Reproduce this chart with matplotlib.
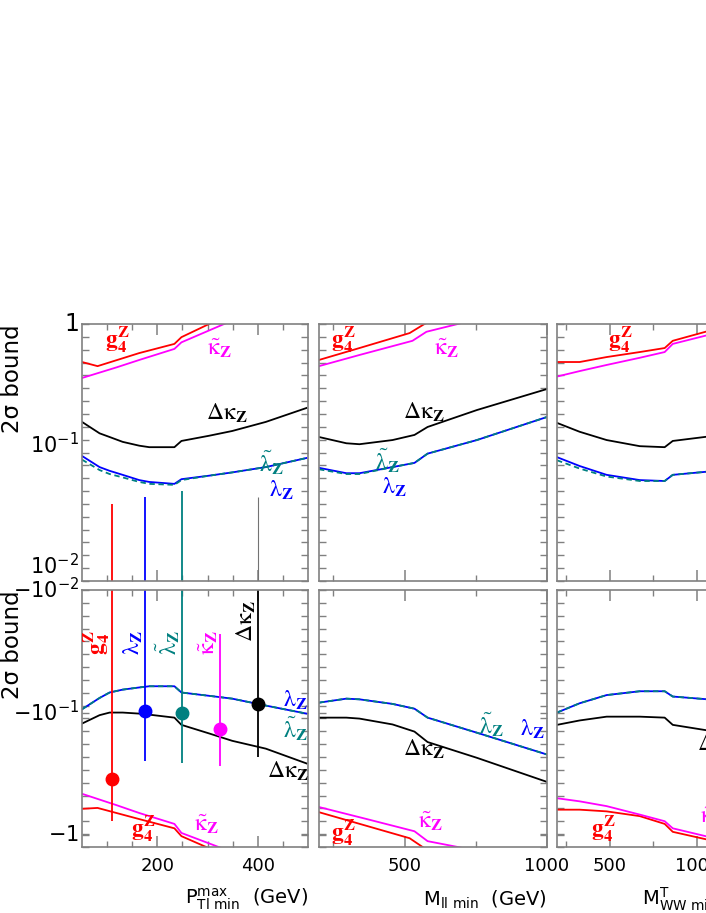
import numpy as np
import matplotlib
matplotlib.use('Agg')
import matplotlib.pyplot as plt
from matplotlib.ticker import FixedLocator, NullFormatter

plt.rcParams['font.family'] = 'DejaVu Sans'

# ---------------- data (2 sigma bounds) ----------------
# left column : P_Tl min^max (GeV)
pt_x = [50, 85, 105, 131, 164, 184, 234, 248, 303, 349, 416, 497]
pt_dk_up = [0.173, 0.141, 0.132, 0.121, 0.113, 0.110, 0.110, 0.123, 0.135, 0.147, 0.173, 0.222]
pt_lam_up = [0.094, 0.077, 0.072, 0.067, 0.061, 0.059, 0.057, 0.062, 0.066, 0.070, 0.077, 0.0906]
pt_lamt_up = [0.088, 0.073, 0.068, 0.064, 0.059, 0.057, 0.056, 0.061, 0.066, 0.070, 0.077, 0.0906]
pt_dk_dn = [-0.123, -0.105, -0.100, -0.100, -0.102, -0.104, -0.110, -0.126, -0.148, -0.170, -0.197, -0.260]
pt_lam_dn = [-0.094, -0.076, -0.0686, -0.065, -0.0624, -0.061, -0.061, -0.0686, -0.073, -0.077, -0.0877, -0.102]
pt_lamt_dn = [-0.094, -0.076, -0.0686, -0.065, -0.0624, -0.061, -0.061, -0.0686, -0.073, -0.077, -0.0877, -0.102]
pt_g4_x = [50, 81, 164, 234, 248, 303, 320]
pt_g4_up = [0.506, 0.47, 0.594, 0.70, 0.79, 1.0, 1.08]
pt_g4_dn = [-0.61, -0.60, -0.74, -0.88, -1.02, -1.28, -1.36]
pt_kt_x = [50, 119, 164, 234, 248, 333, 350]
pt_kt_up = [0.38, 0.46, 0.525, 0.64, 0.72, 1.0, 1.07]
pt_kt_dn = [-0.46, -0.57, -0.66, -0.81, -0.96, -1.30, -1.38]

# single-point bounds shown as error bars in the left column
bar_x = [110, 175, 250, 325, 400]
bar_mid = [-0.35, -0.098, -0.10, -0.135, -0.0845]
bar_lo = [-0.77, -0.25, -0.26, -0.275, -0.23]
bar_hi = [0.040, 0.045, 0.050, -0.023, 0.045]

# middle column : M_ll min (GeV)
ml_x = [200, 296, 342, 458, 535, 581, 754, 1000]
ml_dk_up = [0.132, 0.118, 0.116, 0.125, 0.137, 0.158, 0.214, 0.312]
ml_lam_up = [0.076, 0.069, 0.069, 0.077, 0.083, 0.098, 0.125, 0.189]
ml_lamt_up = [0.074, 0.068, 0.068, 0.077, 0.083, 0.098, 0.125, 0.189]
ml_dk_dn = [-0.11, -0.11, -0.112, -0.125, -0.143, -0.174, -0.234, -0.368]
ml_lam_dn = [-0.083, -0.077, -0.078, -0.085, -0.093, -0.11, -0.146, -0.22]
ml_lamt_dn = [-0.083, -0.077, -0.078, -0.085, -0.093, -0.11, -0.146, -0.22]
ml_g4_x = [200, 342, 518, 570, 600]
ml_g4_up = [0.525, 0.65, 0.85, 1.0, 1.08]
ml_g4_x2 = [200, 518, 570, 600]
ml_g4_dn = [-0.65, -1.06, -1.28, -1.40]
ml_kt_x = [200, 342, 528, 577, 687, 720]
ml_kt_up = [0.47, 0.574, 0.74, 0.87, 1.0, 1.05]
ml_kt_x2 = [200, 368, 535, 581, 687, 720]
ml_kt_dn = [-0.59, -0.74, -0.93, -1.12, -1.25, -1.30]

# right column : M^T_WW min (GeV)
rt_x = [200, 329, 483, 672, 814, 860, 1060]
rt_dk_up = [0.17, 0.145, 0.125, 0.112, 0.110, 0.123, 0.133]
rt_lam_up = [0.092, 0.0785, 0.067, 0.061, 0.060, 0.067, 0.071]
rt_lamt_up = [0.087, 0.075, 0.065, 0.060, 0.060, 0.067, 0.071]
rt_g4_up = [0.506, 0.506, 0.553, 0.605, 0.65, 0.74, 0.88]
rt_kt_up = [0.39, 0.43, 0.48, 0.546, 0.605, 0.70, 0.82]
rt_dk_dn = [-0.126, -0.116, -0.108, -0.108, -0.11, -0.126, -0.14]
rt_lam_dn = [-0.10, -0.084, -0.072, -0.067, -0.067, -0.074, -0.078]
rt_lamt_dn = [-0.10, -0.084, -0.072, -0.067, -0.067, -0.074, -0.078]
rt_g4_dn = [-0.62, -0.62, -0.64, -0.70, -0.81, -0.94, -1.09]
rt_kt_dn = [-0.50, -0.53, -0.58, -0.68, -0.77, -0.88, -1.03]

# axis settings per column
xlims = [(50, 500), (200, 1000), (200, 1500)]
xmajor = [[200, 400], [500, 1000], [500, 1000]]
xminor = [[100, 150, 250, 300, 350, 450], [250, 750], [250, 750, 1250]]
xlabels = [r'P$^{\rm max}_{\rm Tl\ min}$  (GeV)', r'M$_{\rm ll\ min}$  (GeV)',
           r'M$^{\rm T}_{\rm WW\ min}$  (GeV)']

RED, MAG, BLK, BLU, TEAL = '#ff0000', '#ff00ff', '#000000', '#0000ff', '#008080'
G4 = r'$\mathbf{g_4^Z}$'
KT = r'$\tilde{\mathrm{\kappa}}_\mathbf{Z}$'
DK = r'$\Delta\mathrm{\kappa}_\mathbf{Z}$'
LAM = r'$\mathrm{\lambda}_\mathbf{Z}$'
LAMT = r'$\tilde{\mathrm{\lambda}}_\mathbf{Z}$'

W, H = 706, 913
fig = plt.figure(figsize=(W / 100, H / 100), dpi=100)


def px_axes(x0, y0, w, h):
    return fig.add_axes([x0 / W, 1 - (y0 + h) / H, w / W, h / H])


cols = [(82, 226), (319, 228), (557, 228)]
rows = [(324, 257), (590, 257)]
Y_BOT = -1.25


def neg_fwd(y):
    return np.log10(np.abs(y))


def neg_inv(t):
    return -10.0 ** t


def style(ax, c, bottom_row):
    ax.set_xlim(*xlims[c])
    ax.set_xticks(xmajor[c])
    ax.xaxis.set_minor_locator(FixedLocator(xminor[c]))
    for s in ax.spines.values():
        s.set_color('#808080')
        s.set_linewidth(1.2)
    ax.tick_params(which='both', direction='in', top=True, right=True,
                   color='#808080', labelleft=False)
    ax.tick_params(axis='x', which='major', length=8, width=1.1)
    ax.tick_params(axis='x', which='minor', length=4, width=1.0)
    ax.tick_params(axis='y', which='major', length=5, width=1.0)
    ax.tick_params(axis='y', which='minor', length=5, width=1.0)
    ax.yaxis.set_minor_formatter(NullFormatter())
    if bottom_row:
        ax.tick_params(axis='x', labelsize=13, pad=7)
        ax.text(1.0, -0.205, xlabels[c], transform=ax.transAxes, ha='right',
                va='center', fontsize=14)
    else:
        ax.tick_params(axis='x', labelbottom=False)


axes = {}
for r, (y0, h) in enumerate(rows):
    for c, (x0, w) in enumerate(cols):
        ax = px_axes(x0, y0, w, h)
        if r == 0:
            ax.set_yscale('log')
            ax.set_ylim(0.01, 1)
            ax.set_yticks([1, 0.1, 0.01])
            ax.yaxis.set_minor_locator(FixedLocator(10 ** np.linspace(-2, 0, 21)))
        else:
            ax.set_yscale('function', functions=(neg_fwd, neg_inv))
            # -0.01 on top, about -1.25 at the bottom
            ax.set_ylim(-0.01, Y_BOT)
            ax.set_yticks([-0.01, -0.1, -1])
            tb = np.log10(-Y_BOT)
            ax.yaxis.set_minor_locator(FixedLocator(-10 ** np.linspace(-2, tb, 21)))
        style(ax, c, r == 1)
        axes[r, c] = ax

lw = 1.3
dash = (0, (3, 2))
FS = 17
lab = dict(math_fontfamily='stix', fontsize=FS, ha='center', va='center')

# ---------------- left column ----------------
ax = axes[0, 0]
ax.plot(pt_g4_x, pt_g4_up, color=RED, lw=lw)
ax.plot(pt_kt_x, pt_kt_up, color=MAG, lw=lw)
ax.plot(pt_x, pt_dk_up, color=BLK, lw=lw)
ax.plot(pt_x, pt_lam_up, color=BLU, lw=lw)
ax.plot(pt_x, pt_lamt_up, color=TEAL, lw=lw, ls=dash)
for bx, hi, col in zip(bar_x, bar_hi, [RED, BLU, TEAL, MAG, '0.45']):
    if hi > 0:
        ax.vlines(bx, 1e-4, hi, color=col, lw=1.3 if col != '0.45' else 0.8)
ax.text(121, 0.75, G4, color=RED, **lab)
ax.text(323, 0.65, KT, color=MAG, **lab)
ax.text(339, 0.203, DK, color=BLK, **lab)
ax.text(426, 0.084, LAMT, color=TEAL, **lab)
ax.text(446, 0.051, LAM, color=BLU, **lab)
ytk = dict(xycoords=('axes fraction', 'data'), textcoords='offset points',
           ha='right', va='center')
ax.annotate('1', xy=(0, 1), xytext=(-2, 0), fontsize=17, **ytk)
ax.annotate(r'$10^{-1}$', xy=(0, 0.1), xytext=(-2, 6), fontsize=15, **ytk)
ax.annotate(r'$10^{-2}$', xy=(0, 0.01), xytext=(-2, 11), fontsize=15, **ytk)

ax = axes[1, 0]
ax.plot(pt_g4_x, pt_g4_dn, color=RED, lw=lw)
ax.plot(pt_kt_x, pt_kt_dn, color=MAG, lw=lw)
ax.plot(pt_x, pt_dk_dn, color=BLK, lw=lw)
ax.plot(pt_x, pt_lam_dn, color=BLU, lw=lw)
ax.plot(pt_x, pt_lamt_dn, color=TEAL, lw=lw, ls=dash)
bar_cols = [RED, BLU, TEAL, MAG, BLK]
for bx, lo, hi, mid, col in zip(bar_x, bar_lo, bar_hi, bar_mid, bar_cols):
    ax.vlines(bx, min(hi, -1e-4), lo, color=col, lw=1.3)
    ax.plot(bx, mid, 'o', color=col, ms=9)
for bx, txt, col, yv in zip(bar_x, [G4, LAM, LAMT, KT, DK], bar_cols,
                            [-0.027, -0.027, -0.027, -0.027, -0.018]):
    ax.text(bx, yv, txt, color=col, rotation=90, math_fontfamily='stix',
            fontsize=FS, ha='right', va='center')
ax.text(475, -0.079, LAM, color=BLU, **lab)
ax.text(475, -0.134, LAMT, color=TEAL, **lab)
ax.text(459, -0.30, DK, color=BLK, **lab)
ax.text(297, -0.81, KT, color=MAG, **lab)
ax.text(172, -0.89, G4, color=RED, **lab)
for val, txt in zip([-0.01, -0.1, -1], [r'$-10^{-2}$', r'$-10^{-1}$', r'$-1$']):
    ax.annotate(txt, xy=(0, val), xytext=(-2, 0), fontsize=15, **ytk)

# ---------------- middle column ----------------
ax = axes[0, 1]
ax.plot(ml_g4_x, ml_g4_up, color=RED, lw=lw)
ax.plot(ml_kt_x, ml_kt_up, color=MAG, lw=lw)
ax.plot(ml_x, ml_dk_up, color=BLK, lw=lw)
ax.plot(ml_x, ml_lam_up, color=BLU, lw=lw)
ax.plot(ml_x, ml_lamt_up, color=TEAL, lw=lw, ls=dash)
ax.text(285, 0.75, G4, color=RED, **lab)
ax.text(648, 0.65, KT, color=MAG, **lab)
ax.text(567, 0.207, DK, color=BLK, **lab)
ax.text(440, 0.087, LAMT, color=TEAL, **lab)
ax.text(465, 0.054, LAM, color=BLU, **lab)

ax = axes[1, 1]
ax.plot(ml_g4_x2, ml_g4_dn, color=RED, lw=lw)
ax.plot(ml_kt_x2, ml_kt_dn, color=MAG, lw=lw)
ax.plot(ml_x, ml_dk_dn, color=BLK, lw=lw)
ax.plot(ml_x, ml_lam_dn, color=BLU, lw=lw)
ax.plot(ml_x, ml_lamt_dn, color=TEAL, lw=lw, ls=dash)
ax.text(803, -0.126, LAMT, color=TEAL, **lab)
ax.text(947, -0.137, LAM, color=BLU, **lab)
ax.text(567, -0.20, DK, color=BLK, **lab)
ax.text(592, -0.77, KT, color=MAG, **lab)
ax.text(285, -0.95, G4, color=RED, **lab)

# ---------------- right column (cut by the page edge) ----------------
ax = axes[0, 2]
ax.plot(rt_x, rt_g4_up, color=RED, lw=lw)
ax.plot(rt_x, rt_kt_up, color=MAG, lw=lw)
ax.plot(rt_x, rt_dk_up, color=BLK, lw=lw)
ax.plot(rt_x, rt_lam_up, color=BLU, lw=lw)
ax.plot(rt_x, rt_lamt_up, color=TEAL, lw=lw, ls=dash)
ax.text(563, 0.76, G4, color=RED, **lab)

ax = axes[1, 2]
ax.plot(rt_x, rt_g4_dn, color=RED, lw=lw)
ax.plot(rt_x, rt_kt_dn, color=MAG, lw=lw)
ax.plot(rt_x, rt_dk_dn, color=BLK, lw=lw)
ax.plot(rt_x, rt_lam_dn, color=BLU, lw=lw)
ax.plot(rt_x, rt_lamt_dn, color=TEAL, lw=lw, ls=dash)
ax.text(466, -0.89, G4, color=RED, **lab)
ax.text(997, -0.18, DK, color=BLK, math_fontfamily='stix', fontsize=FS,
        ha='left', va='center')
ax.text(1014, -0.70, KT, color=MAG, math_fontfamily='stix', fontsize=FS,
        ha='left', va='center')

# y axis titles
for y0, h in rows:
    fig.text(13 / W, 1 - y0 / H, '2\u03c3 bound', rotation=90, ha='center',
             va='top', fontsize=16.5)

fig.savefig('out.png', dpi=100)
